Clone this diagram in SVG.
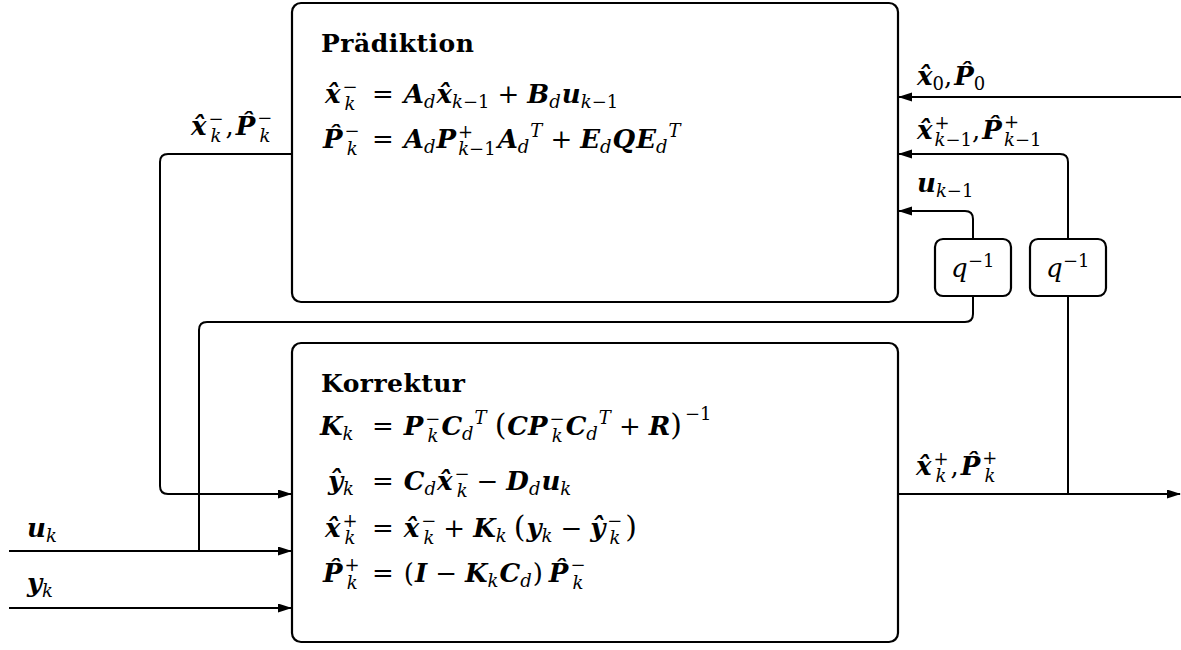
<svg xmlns="http://www.w3.org/2000/svg" width="1181" height="650" viewBox="0 0 1181 650">
<style>
.box{fill:#fff;stroke:#000;stroke-width:2.2}
.ln{fill:none;stroke:#000;stroke-width:2}
.m{font-family:"DejaVu Serif","Liberation Serif",serif;font-size:26px;fill:#000}
.t{font-family:"DejaVu Serif","Liberation Serif",serif;font-weight:bold;font-size:25px;fill:#000}
.b{font-weight:bold;font-style:italic}
.i{font-style:italic}
.s{font-size:18px}
.p{font-size:30px}
</style>
<defs>
<marker id="ah" markerUnits="userSpaceOnUse" markerWidth="14" markerHeight="10" refX="13" refY="4.5" orient="auto"><path d="M0,0 L14,4.5 L0,9 Z" fill="#000"/></marker>
</defs>
<g id="connectors">
<path class="ln" d="M1181,97 H899" marker-end="url(#ah)"/>
<path class="ln" d="M1068,239 V162 Q1068,154 1060,154 H899" marker-end="url(#ah)"/>
<path class="ln" d="M973,239 V219 Q973,211 965,211 H899" marker-end="url(#ah)"/>
<path class="ln" d="M973,296 V314 Q973,322 965,322 H207 Q199,322 199,330 V551"/>
<path class="ln" d="M1068,296 V494"/>
<path class="ln" d="M898,494 H1180" marker-end="url(#ah)"/>
<path class="ln" d="M292,154 H168 Q160,154 160,162 V486 Q160,494 168,494 H291" marker-end="url(#ah)"/>
<path class="ln" d="M9,551 H291" marker-end="url(#ah)"/>
<path class="ln" d="M9,608 H291" marker-end="url(#ah)"/>
</g>
<g id="praediktion">
<rect class="box" x="292" y="3" width="606" height="299" rx="9"/>
<text class="t" x="321" y="52" textLength="153">Prädiktion</text>
<text class="m" y="103"><tspan class="b" x="325">x̂</tspan><tspan class="s" dx="2" baseline-shift="10">−</tspan><tspan class="s i" dx="-13" baseline-shift="-7">k</tspan><tspan x="372">=</tspan><tspan class="b" dx="10">A</tspan><tspan class="s i" baseline-shift="-5">d</tspan><tspan class="b" dx="1">x̂</tspan><tspan class="s i" baseline-shift="-5">k</tspan><tspan class="s" baseline-shift="-5">−1</tspan><tspan dx="8">+</tspan><tspan class="b" dx="8">B</tspan><tspan class="s i" baseline-shift="-5">d</tspan><tspan class="b" dx="1">u</tspan><tspan class="s i" baseline-shift="-5">k</tspan><tspan class="s" baseline-shift="-5">−1</tspan></text>
<text class="m" y="148"><tspan class="b" x="323">P̂</tspan><tspan class="s" dx="2" baseline-shift="11">−</tspan><tspan class="s i" dx="-13" baseline-shift="-7">k</tspan><tspan x="372">=</tspan><tspan class="b" dx="10">A</tspan><tspan class="s i" baseline-shift="-5">d</tspan><tspan class="b" dx="1">P</tspan><tspan class="s" dx="2" baseline-shift="10">+</tspan><tspan class="s i" dx="-15" baseline-shift="-7">k</tspan><tspan class="s" baseline-shift="-7">−1</tspan><tspan class="b" dx="2">A</tspan><tspan class="s i" baseline-shift="-5">d</tspan><tspan class="s i" dx="1" baseline-shift="11">T</tspan><tspan dx="8">+</tspan><tspan class="b" dx="8">E</tspan><tspan class="s i" baseline-shift="-5">d</tspan><tspan class="b" dx="1">Q</tspan><tspan class="b" dx="1">E</tspan><tspan class="s i" baseline-shift="-5">d</tspan><tspan class="s i" dx="1" baseline-shift="11">T</tspan></text>
</g>
<g id="korrektur">
<rect class="box" x="292" y="343" width="606" height="299" rx="9"/>
<text class="t" x="321" y="392" textLength="144">Korrektur</text>
<text class="m" y="435"><tspan class="b" x="320">K</tspan><tspan class="s i" baseline-shift="-5">k</tspan><tspan x="372">=</tspan><tspan class="b" dx="10">P</tspan><tspan class="s" dx="2" baseline-shift="10">−</tspan><tspan class="s i" dx="-13" baseline-shift="-7">k</tspan><tspan class="b" dx="3">C</tspan><tspan class="s i" baseline-shift="-5">d</tspan><tspan class="s i" dx="1" baseline-shift="11">T</tspan><tspan class="p" dx="8">(</tspan><tspan class="b" dx="1">C</tspan><tspan class="b">P</tspan><tspan class="s" dx="2" baseline-shift="10">−</tspan><tspan class="s i" dx="-13" baseline-shift="-7">k</tspan><tspan class="b" dx="3">C</tspan><tspan class="s i" baseline-shift="-5">d</tspan><tspan class="s i" dx="1" baseline-shift="11">T</tspan><tspan dx="8">+</tspan><tspan class="b" dx="8">R</tspan><tspan class="p">)</tspan><tspan class="s" dx="3" baseline-shift="15">−1</tspan></text>
<text class="m" y="490"><tspan class="b" x="328">ŷ</tspan><tspan class="s i" baseline-shift="-5">k</tspan><tspan x="372">=</tspan><tspan class="b" dx="10">C</tspan><tspan class="s i" baseline-shift="-5">d</tspan><tspan class="b" dx="1">x̂</tspan><tspan class="s" dx="2" baseline-shift="10">−</tspan><tspan class="s i" dx="-13" baseline-shift="-7">k</tspan><tspan dx="9">−</tspan><tspan class="b" dx="8">D</tspan><tspan class="s i" baseline-shift="-5">d</tspan><tspan class="b" dx="1">u</tspan><tspan class="s i" baseline-shift="-5">k</tspan></text>
<text class="m" y="537"><tspan class="b" x="325">x̂</tspan><tspan class="s" dx="2" baseline-shift="10">+</tspan><tspan class="s i" dx="-13" baseline-shift="-7">k</tspan><tspan x="372">=</tspan><tspan class="b" dx="10">x̂</tspan><tspan class="s" dx="2" baseline-shift="10">−</tspan><tspan class="s i" dx="-13" baseline-shift="-7">k</tspan><tspan dx="9">+</tspan><tspan class="b" dx="8">K</tspan><tspan class="s i" baseline-shift="-5">k</tspan><tspan class="p" dx="7">(</tspan><tspan class="b" dx="1">y</tspan><tspan class="s i" baseline-shift="-5">k</tspan><tspan dx="8">−</tspan><tspan class="b" dx="8">ŷ</tspan><tspan class="s" dx="2" baseline-shift="10">−</tspan><tspan class="s i" dx="-13" baseline-shift="-7">k</tspan><tspan class="p" dx="5">)</tspan></text>
<text class="m" y="582"><tspan class="b" x="323">P̂</tspan><tspan class="s" dx="2" baseline-shift="11">+</tspan><tspan class="s i" dx="-13" baseline-shift="-7">k</tspan><tspan x="372">=</tspan><tspan dx="10">(</tspan><tspan class="b" dx="1">I</tspan><tspan dx="8">−</tspan><tspan class="b" dx="8">K</tspan><tspan class="s i" baseline-shift="-5">k</tspan><tspan class="b" dx="1">C</tspan><tspan class="s i" baseline-shift="-5">d</tspan><tspan dx="1">)</tspan><tspan class="b" dx="6">P̂</tspan><tspan class="s" dx="2" baseline-shift="11">−</tspan><tspan class="s i" dx="-13" baseline-shift="-7">k</tspan></text>
</g>
<g id="delay1">
<rect class="box" x="935" y="239" width="76" height="57" rx="8"/>
<text class="m" y="277"><tspan class="i" x="951">q</tspan><tspan class="s" x="968" baseline-shift="10">−1</tspan></text>
</g>
<g id="delay2">
<rect class="box" x="1030" y="239" width="76" height="57" rx="8"/>
<text class="m" y="277"><tspan class="i" x="1046">q</tspan><tspan class="s" x="1063" baseline-shift="10">−1</tspan></text>
</g>
<g id="labels">
<text class="m" y="135"><tspan class="b" x="191">x̂</tspan><tspan class="s" dx="2" baseline-shift="10">−</tspan><tspan class="s i" dx="-13" baseline-shift="-7">k</tspan><tspan dx="4">,</tspan><tspan class="b" dx="2">P̂</tspan><tspan class="s" dx="2" baseline-shift="11">−</tspan><tspan class="s i" dx="-13" baseline-shift="-7">k</tspan></text>
<text class="m" y="85"><tspan class="b" x="917">x̂</tspan><tspan class="s" baseline-shift="-5">0</tspan><tspan>,</tspan><tspan class="b" dx="2">P̂</tspan><tspan class="s" baseline-shift="-5">0</tspan></text>
<text class="m" y="139"><tspan class="b" x="917">x̂</tspan><tspan class="s" dx="2" baseline-shift="10">+</tspan><tspan class="s i" dx="-15" baseline-shift="-7">k</tspan><tspan class="s" baseline-shift="-7">−1</tspan><tspan>,</tspan><tspan class="b" dx="2">P̂</tspan><tspan class="s" dx="2" baseline-shift="11">+</tspan><tspan class="s i" dx="-15" baseline-shift="-7">k</tspan><tspan class="s" baseline-shift="-7">−1</tspan></text>
<text class="m" y="192"><tspan class="b" x="917">u</tspan><tspan class="s i" baseline-shift="-5">k</tspan><tspan class="s" baseline-shift="-5">−1</tspan></text>
<text class="m" y="475"><tspan class="b" x="916">x̂</tspan><tspan class="s" dx="2" baseline-shift="10">+</tspan><tspan class="s i" dx="-13" baseline-shift="-7">k</tspan><tspan dx="4">,</tspan><tspan class="b" dx="2">P̂</tspan><tspan class="s" dx="2" baseline-shift="11">+</tspan><tspan class="s i" dx="-13" baseline-shift="-7">k</tspan></text>
<text class="m" y="537"><tspan class="b" x="27">u</tspan><tspan class="s i" baseline-shift="-5">k</tspan></text>
<text class="m" y="592"><tspan class="b" x="27">y</tspan><tspan class="s i" baseline-shift="-5">k</tspan></text>
</g>
</svg>
